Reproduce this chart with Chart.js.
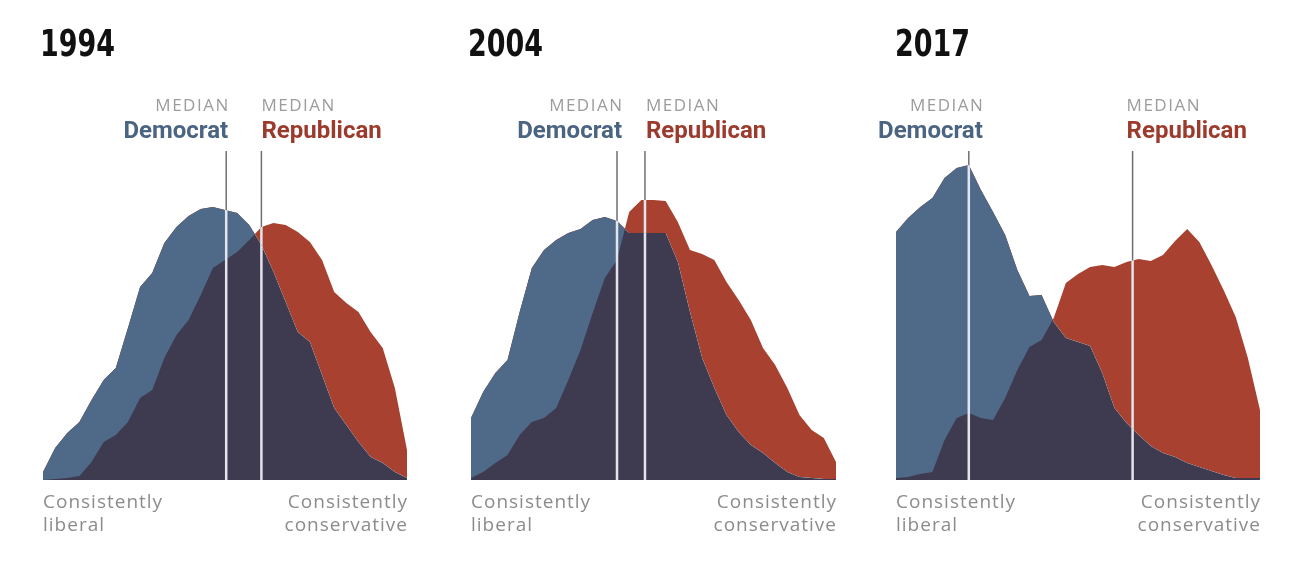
<!DOCTYPE html>
<html><head><meta charset="utf-8">
<script src="https://cdn.jsdelivr.net/npm/chart.js@4/dist/chart.umd.min.js"></script>
<style>
html,body{margin:0;padding:0;background:#fff;}
#wrap{position:relative;width:1316px;height:576px;overflow:hidden;background:#fff;}
#wrap canvas{position:absolute;left:0;top:0;}
</style></head><body>
<div id="wrap">
<canvas id="c0" width="1316" height="576"></canvas>
<canvas id="c1" width="1316" height="576"></canvas>
<canvas id="c2" width="1316" height="576"></canvas>
</div>
<script>
// ---- data ----
const years = ['1994', '2004', '2017'];
const positions = [0,1,2,3,4,5,6,7,8,9,10,11,12,13,14,15,16,17,18,19,20,21,22,23,24,25,26,27,28,29,30];
const dem1994 = [8,32,47,58,80,100,112,152,193,207,237,253,264,271,273,270,267,255,235,208,178,148,138,105,72,55,38,23,17,8,2];
const rep1994 = [0,1,2,4,18,38,45,58,82,90,122,145,160,185,212,220,228,240,253,257,255,248,238,220,188,177,168,148,132,92,30];
const dem2004 = [62,88,107,120,168,212,230,240,247,251,260,263,259,247,247,247,247,218,168,122,92,65,48,35,27,17,8,3,2,1,1];
const rep2004 = [2,8,17,25,45,58,62,72,100,130,167,202,220,268,280,280,279,258,230,226,220,198,180,160,132,115,92,65,50,42,18];
const dem2017 = [248,262,273,282,302,312,315,290,268,245,210,184,185,158,142,138,134,107,72,57,45,34,27,23,17,13,9,5,2,2,2];
const rep2017 = [2,3,6,8,40,62,67,62,60,82,110,133,140,162,197,206,213,215,213,218,221,219,225,239,251,238,215,190,163,122,70];
const medianDem = [15.1, 12.0, 6.0];
const medianRep = [18.0, 14.3, 19.5];
const medianWord = 'MEDIAN';
const demLabel = 'Democrat';
const repLabel = 'Republican';
const leftLabel = ['Consistently', 'liberal'];
const rightLabel = ['Consistently', 'conservative'];

// ---- layout / style ----
const W = 1316, H = 576;
const panels = [
  {left: 43, right: 407, titleX: 40, demOff: 2, repOff: 0},
  {left: 471, right: 836, titleX: 468, demOff: 5, repOff: 1},
  {left: 896, right: 1260, titleX: 895, demOff: 14, repOff: -6}
];
const TITLE_W = 75;
const demSeries = [dem1994, dem2004, dem2017];
const repSeries = [rep1994, rep2004, rep2017];
const COL = {blue: '#4f6a89', red: '#a8412f', dark: '#3e3a50', demText: '#4a6481', repText: '#9c3b2d',
  gray: '#9c9c9c', axisText: '#8c8c8c', lineGray: '#6f6f6f', lineWhite: '#e2e4ee', title: '#111111'};

function drawText(ctx, txt, x, y, font, color, align, spacing) {
  ctx.font = font; ctx.fillStyle = color; ctx.textAlign = align; ctx.textBaseline = 'alphabetic';
  if ('letterSpacing' in ctx) ctx.letterSpacing = (spacing || 0) + 'px';
  let xx = x;
  if (align === 'right' && spacing) xx = x + spacing;
  ctx.fillText(txt, xx, y);
  if ('letterSpacing' in ctx) ctx.letterSpacing = '0px';
}

const panelPlugin = {
  id: 'panel',
  afterDatasetsDraw(chart, args, o) {
    const ctx = chart.ctx, xs = chart.scales.x, a = chart.chartArea;
    const meds = [o.medDem, o.medRep];
    ctx.save();
    ctx.globalCompositeOperation = 'source-atop';
    ctx.strokeStyle = COL.lineWhite; ctx.lineWidth = 2.5;
    meds.forEach(m => { const px = xs.getPixelForValue(m); ctx.beginPath(); ctx.moveTo(px, 150); ctx.lineTo(px, a.bottom); ctx.stroke(); });
    ctx.globalCompositeOperation = 'destination-over';
    ctx.strokeStyle = COL.lineGray; ctx.lineWidth = 1.5;
    meds.forEach(m => { const px = xs.getPixelForValue(m); ctx.beginPath(); ctx.moveTo(px, 151); ctx.lineTo(px, a.bottom); ctx.stroke(); });
    ctx.globalCompositeOperation = 'source-over';
    // title (condensed by horizontal scaling)
    ctx.save();
    ctx.font = 'bold 38px "DejaVu Sans", sans-serif';
    const tw = ctx.measureText(o.year).width;
    ctx.translate(o.titleX, 56);
    ctx.scale(TITLE_W / tw, 1);
    ctx.fillStyle = COL.title; ctx.textAlign = 'left'; ctx.textBaseline = 'alphabetic';
    ctx.fillText(o.year, 0, 0);
    ctx.restore();
    // median labels
    const dx = xs.getPixelForValue(o.medDem) + o.demOff;
    const rx = xs.getPixelForValue(o.medRep) + o.repOff;
    drawText(ctx, medianWord, dx, 111, '17px "Open Sans", sans-serif', COL.gray, 'right', 1.5);
    drawText(ctx, demLabel, dx, 138, 'bold 24px Roboto, sans-serif', COL.demText, 'right', 0);
    drawText(ctx, medianWord, rx, 111, '17px "Open Sans", sans-serif', COL.gray, 'left', 1.5);
    drawText(ctx, repLabel, rx, 138, 'bold 24px Roboto, sans-serif', COL.repText, 'left', 0);
    // axis end labels
    const f = '19px "Open Sans", sans-serif';
    drawText(ctx, leftLabel[0], a.left, 508, f, COL.axisText, 'left', 1);
    drawText(ctx, leftLabel[1], a.left, 531, f, COL.axisText, 'left', 1);
    drawText(ctx, rightLabel[0], a.right, 508, f, COL.axisText, 'right', 1);
    drawText(ctx, rightLabel[1], a.right, 531, f, COL.axisText, 'right', 1);
    ctx.restore();
  }
};

panels.forEach((p, i) => {
  const dem = demSeries[i], rep = repSeries[i];
  new Chart(document.getElementById('c' + i), {
    type: 'line',
    data: {
      datasets: [
        {label: 'Democrat', data: positions.map((x, k) => ({x: x, y: dem[k]})), order: 2,
         fill: 'origin', backgroundColor: COL.dark, borderWidth: 0, pointRadius: 0, tension: 0},
        {label: 'Republican', data: positions.map((x, k) => ({x: x, y: rep[k]})), order: 1,
         fill: {target: 0, above: COL.red, below: COL.blue}, backgroundColor: COL.red, borderWidth: 0, pointRadius: 0, tension: 0}
      ]
    },
    options: {
      responsive: false, animation: false, devicePixelRatio: 1,
      layout: {padding: {left: p.left, right: W - p.right, top: 160, bottom: H - 480}},
      scales: {
        x: {type: 'linear', min: 0, max: 30, display: false},
        y: {min: 0, max: 320, display: false}
      },
      plugins: {
        legend: {display: false}, tooltip: {enabled: false},
        panel: {year: years[i], medDem: medianDem[i], medRep: medianRep[i], titleX: p.titleX, demOff: p.demOff, repOff: p.repOff}
      }
    },
    plugins: [panelPlugin]
  });
});
</script>
</body></html>
